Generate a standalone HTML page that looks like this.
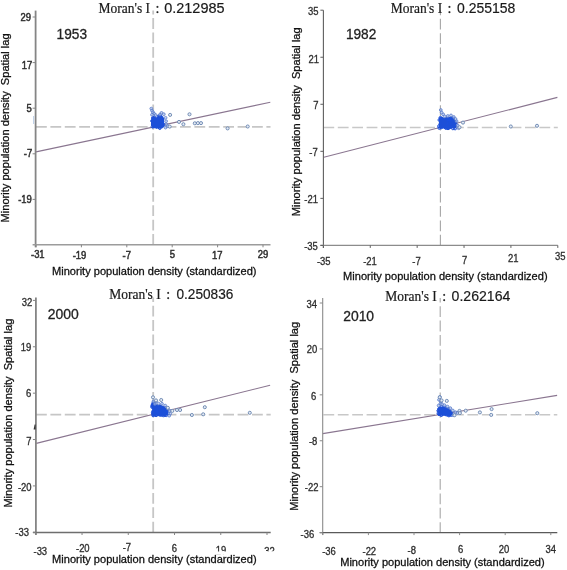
<!DOCTYPE html>
<html><head><meta charset="utf-8"><style>
html,body{margin:0;padding:0;background:#fff;}
body{width:567px;height:570px;overflow:hidden;position:relative;}
svg{position:absolute;left:0;top:0;filter:blur(0.5px);}
</style></head><body>
<svg width="567" height="570" viewBox="0 0 567 570">
<rect width="567" height="570" fill="#fff"/>
<line x1="153.20" y1="10.60" x2="153.20" y2="244.80" stroke="#c6c6c6" stroke-width="1.8" stroke-dasharray="10.8 3.6" stroke-dashoffset="6.9"/>
<line x1="36.00" y1="126.90" x2="270.50" y2="126.90" stroke="#c6c6c6" stroke-width="1.8" stroke-dasharray="10.8 3.6" stroke-dashoffset="0"/>
<line x1="36.00" y1="151.90" x2="270.30" y2="102.30" stroke="#8a7690" stroke-width="1.1" />
<line x1="35.60" y1="10.60" x2="35.60" y2="247.30" stroke="#858585" stroke-width="1.8" />
<line x1="32.60" y1="244.80" x2="270.50" y2="244.80" stroke="#9c9c9c" stroke-width="1.4" />
<line x1="32.60" y1="17.00" x2="35.60" y2="17.00" stroke="#858585" stroke-width="1" />
<line x1="32.60" y1="62.60" x2="35.60" y2="62.60" stroke="#858585" stroke-width="1" />
<line x1="32.60" y1="108.20" x2="35.60" y2="108.20" stroke="#858585" stroke-width="1" />
<line x1="32.60" y1="153.80" x2="35.60" y2="153.80" stroke="#858585" stroke-width="1" />
<line x1="32.60" y1="199.40" x2="35.60" y2="199.40" stroke="#858585" stroke-width="1" />
<line x1="36.00" y1="244.80" x2="36.00" y2="247.30" stroke="#858585" stroke-width="1" />
<line x1="81.40" y1="244.80" x2="81.40" y2="247.30" stroke="#858585" stroke-width="1" />
<line x1="126.80" y1="244.80" x2="126.80" y2="247.30" stroke="#858585" stroke-width="1" />
<line x1="172.20" y1="244.80" x2="172.20" y2="247.30" stroke="#858585" stroke-width="1" />
<line x1="217.60" y1="244.80" x2="217.60" y2="247.30" stroke="#858585" stroke-width="1" />
<line x1="263.00" y1="244.80" x2="263.00" y2="247.30" stroke="#858585" stroke-width="1" />
<text x="0" y="0" transform="translate(31.10,20.66) scale(0.9,1)" font-size="10.5" text-anchor="end" font-family='"Liberation Sans", sans-serif' fill="#2e2e2e" stroke="#2e2e2e" stroke-width="0.5">29</text>
<text x="0" y="0" transform="translate(32.30,69.36) scale(0.9,1)" font-size="10.5" text-anchor="end" font-family='"Liberation Sans", sans-serif' fill="#2e2e2e" stroke="#2e2e2e" stroke-width="0.5">17</text>
<text x="0" y="0" transform="translate(31.80,111.76) scale(0.9,1)" font-size="10.5" text-anchor="end" font-family='"Liberation Sans", sans-serif' fill="#2e2e2e" stroke="#2e2e2e" stroke-width="0.5">5</text>
<text x="0" y="0" transform="translate(32.20,156.76) scale(0.9,1)" font-size="10.5" text-anchor="end" font-family='"Liberation Sans", sans-serif' fill="#2e2e2e" stroke="#2e2e2e" stroke-width="0.5">-7</text>
<text x="0" y="0" transform="translate(31.80,203.16) scale(0.9,1)" font-size="10.5" text-anchor="end" font-family='"Liberation Sans", sans-serif' fill="#2e2e2e" stroke="#2e2e2e" stroke-width="0.5">-19</text>
<text x="0" y="0" transform="translate(37.80,257.96) scale(0.9,1)" font-size="10.5" text-anchor="middle" font-family='"Liberation Sans", sans-serif' fill="#2e2e2e" stroke="#2e2e2e" stroke-width="0.5">-31</text>
<text x="0" y="0" transform="translate(79.50,258.96) scale(0.9,1)" font-size="10.5" text-anchor="middle" font-family='"Liberation Sans", sans-serif' fill="#2e2e2e" stroke="#2e2e2e" stroke-width="0.5">-19</text>
<text x="0" y="0" transform="translate(126.80,258.56) scale(0.9,1)" font-size="10.5" text-anchor="middle" font-family='"Liberation Sans", sans-serif' fill="#2e2e2e" stroke="#2e2e2e" stroke-width="0.5">-7</text>
<text x="0" y="0" transform="translate(172.40,258.16) scale(0.9,1)" font-size="10.5" text-anchor="middle" font-family='"Liberation Sans", sans-serif' fill="#2e2e2e" stroke="#2e2e2e" stroke-width="0.5">5</text>
<text x="0" y="0" transform="translate(217.20,258.96) scale(0.9,1)" font-size="10.5" text-anchor="middle" font-family='"Liberation Sans", sans-serif' fill="#2e2e2e" stroke="#2e2e2e" stroke-width="0.5">17</text>
<text x="0" y="0" transform="translate(263.10,257.96) scale(0.9,1)" font-size="10.5" text-anchor="middle" font-family='"Liberation Sans", sans-serif' fill="#2e2e2e" stroke="#2e2e2e" stroke-width="0.5">29</text>
<text x="98.50" y="13.30" font-family='"Liberation Serif", serif' font-size="14.4" fill="#1a1a1a" textLength="51.5" lengthAdjust="spacingAndGlyphs" stroke="#1a1a1a" stroke-width="0.2">Moran's I</text>
<text x="155.60" y="13.30" font-family='"Liberation Serif", serif' font-size="14" fill="#1a1a1a" stroke="#1a1a1a" stroke-width="0.3">:</text>
<text x="164.20" y="13.30" font-family='"Liberation Sans", sans-serif' font-size="14.4" fill="#1a1a1a" stroke="#1a1a1a" stroke-width="0.2" textLength="60.4" lengthAdjust="spacingAndGlyphs">0.212985</text>
<text x="56.60" y="38.60" font-family='"Liberation Sans", sans-serif' font-size="14.6" fill="#222" stroke="#222" stroke-width="0.3" textLength="30.4" lengthAdjust="spacingAndGlyphs">1953</text>
<text x="0" y="0" transform="translate(9.30,222.40) rotate(-90)" font-family='"Liberation Sans", sans-serif' font-size="11" fill="#111" stroke="#111" stroke-width="0.28" textLength="189" lengthAdjust="spacingAndGlyphs" xml:space="preserve">Minority population density  Spatial lag</text>
<text x="52.00" y="274.50" font-family='"Liberation Sans", sans-serif' font-size="11" fill="#111" stroke="#111" stroke-width="0.28" textLength="204.5" lengthAdjust="spacingAndGlyphs">Minority population density (standardized)</text>
<line x1="440.40" y1="10.20" x2="440.40" y2="245.40" stroke="#a6a6a6" stroke-width="1.1" stroke-dasharray="10.8 3.6" stroke-dashoffset="5.8"/>
<line x1="323.40" y1="127.40" x2="557.80" y2="127.40" stroke="#c8c8c8" stroke-width="1.5" stroke-dasharray="10.8 3.6" stroke-dashoffset="0"/>
<line x1="323.80" y1="157.20" x2="557.40" y2="97.40" stroke="#8a7690" stroke-width="1.1" />
<line x1="323.40" y1="10.20" x2="323.40" y2="247.90" stroke="#5e5e5e" stroke-width="1.1" />
<line x1="320.40" y1="245.40" x2="557.80" y2="245.40" stroke="#8c8c8c" stroke-width="1.3" />
<line x1="320.40" y1="10.20" x2="323.40" y2="10.20" stroke="#5e5e5e" stroke-width="1" />
<line x1="320.40" y1="57.24" x2="323.40" y2="57.24" stroke="#5e5e5e" stroke-width="1" />
<line x1="320.40" y1="104.28" x2="323.40" y2="104.28" stroke="#5e5e5e" stroke-width="1" />
<line x1="320.40" y1="151.32" x2="323.40" y2="151.32" stroke="#5e5e5e" stroke-width="1" />
<line x1="320.40" y1="198.36" x2="323.40" y2="198.36" stroke="#5e5e5e" stroke-width="1" />
<line x1="320.40" y1="245.40" x2="323.40" y2="245.40" stroke="#5e5e5e" stroke-width="1" />
<line x1="323.40" y1="245.40" x2="323.40" y2="247.90" stroke="#5e5e5e" stroke-width="1" />
<line x1="370.28" y1="245.40" x2="370.28" y2="247.90" stroke="#5e5e5e" stroke-width="1" />
<line x1="417.16" y1="245.40" x2="417.16" y2="247.90" stroke="#5e5e5e" stroke-width="1" />
<line x1="464.04" y1="245.40" x2="464.04" y2="247.90" stroke="#5e5e5e" stroke-width="1" />
<line x1="510.92" y1="245.40" x2="510.92" y2="247.90" stroke="#5e5e5e" stroke-width="1" />
<line x1="557.80" y1="245.40" x2="557.80" y2="247.90" stroke="#5e5e5e" stroke-width="1" />
<text x="0" y="0" transform="translate(318.50,15.41) scale(0.9,1)" font-size="10.5" text-anchor="end" font-family='"Liberation Sans", sans-serif' fill="#2e2e2e" stroke="#2e2e2e" stroke-width="0.32">35</text>
<text x="0" y="0" transform="translate(319.10,62.56) scale(0.9,1)" font-size="10.5" text-anchor="end" font-family='"Liberation Sans", sans-serif' fill="#2e2e2e" stroke="#2e2e2e" stroke-width="0.32">21</text>
<text x="0" y="0" transform="translate(318.40,109.06) scale(0.9,1)" font-size="10.5" text-anchor="end" font-family='"Liberation Sans", sans-serif' fill="#2e2e2e" stroke="#2e2e2e" stroke-width="0.32">7</text>
<text x="0" y="0" transform="translate(317.70,155.96) scale(0.9,1)" font-size="10.5" text-anchor="end" font-family='"Liberation Sans", sans-serif' fill="#2e2e2e" stroke="#2e2e2e" stroke-width="0.32">-7</text>
<text x="0" y="0" transform="translate(317.90,202.86) scale(0.9,1)" font-size="10.5" text-anchor="end" font-family='"Liberation Sans", sans-serif' fill="#2e2e2e" stroke="#2e2e2e" stroke-width="0.32">-21</text>
<text x="0" y="0" transform="translate(317.80,249.76) scale(0.9,1)" font-size="10.5" text-anchor="end" font-family='"Liberation Sans", sans-serif' fill="#2e2e2e" stroke="#2e2e2e" stroke-width="0.32">-35</text>
<text x="0" y="0" transform="translate(323.75,265.16) scale(0.9,1)" font-size="10.5" text-anchor="middle" font-family='"Liberation Sans", sans-serif' fill="#2e2e2e" stroke="#2e2e2e" stroke-width="0.32">-35</text>
<text x="0" y="0" transform="translate(370.00,265.26) scale(0.9,1)" font-size="10.5" text-anchor="middle" font-family='"Liberation Sans", sans-serif' fill="#2e2e2e" stroke="#2e2e2e" stroke-width="0.32">-21</text>
<text x="0" y="0" transform="translate(416.50,264.66) scale(0.9,1)" font-size="10.5" text-anchor="middle" font-family='"Liberation Sans", sans-serif' fill="#2e2e2e" stroke="#2e2e2e" stroke-width="0.32">-7</text>
<text x="0" y="0" transform="translate(464.50,263.56) scale(0.9,1)" font-size="10.5" text-anchor="middle" font-family='"Liberation Sans", sans-serif' fill="#2e2e2e" stroke="#2e2e2e" stroke-width="0.32">7</text>
<text x="0" y="0" transform="translate(513.30,261.66) scale(0.9,1)" font-size="10.5" text-anchor="middle" font-family='"Liberation Sans", sans-serif' fill="#2e2e2e" stroke="#2e2e2e" stroke-width="0.32">21</text>
<text x="0" y="0" transform="translate(560.20,260.46) scale(0.9,1)" font-size="10.5" text-anchor="middle" font-family='"Liberation Sans", sans-serif' fill="#2e2e2e" stroke="#2e2e2e" stroke-width="0.32">35</text>
<text x="390.70" y="12.70" font-family='"Liberation Serif", serif' font-size="14.4" fill="#1a1a1a" textLength="51.5" lengthAdjust="spacingAndGlyphs" stroke="#1a1a1a" stroke-width="0.2">Moran's I</text>
<text x="447.60" y="12.70" font-family='"Liberation Serif", serif' font-size="14" fill="#1a1a1a" stroke="#1a1a1a" stroke-width="0.3">:</text>
<text x="457.00" y="12.70" font-family='"Liberation Sans", sans-serif' font-size="14.4" fill="#1a1a1a" stroke="#1a1a1a" stroke-width="0.2" textLength="58.3" lengthAdjust="spacingAndGlyphs">0.255158</text>
<text x="345.90" y="39.40" font-family='"Liberation Sans", sans-serif' font-size="14.6" fill="#222" stroke="#222" stroke-width="0.3" textLength="30.4" lengthAdjust="spacingAndGlyphs">1982</text>
<text x="0" y="0" transform="translate(300.00,216.30) rotate(-90)" font-family='"Liberation Sans", sans-serif' font-size="11" fill="#111" stroke="#111" stroke-width="0.28" textLength="189" lengthAdjust="spacingAndGlyphs" xml:space="preserve">Minority population density  Spatial lag</text>
<text x="343.10" y="279.80" font-family='"Liberation Sans", sans-serif' font-size="11" fill="#111" stroke="#111" stroke-width="0.28" textLength="204.5" lengthAdjust="spacingAndGlyphs">Minority population density (standardized)</text>
<line x1="153.20" y1="297.40" x2="153.20" y2="532.50" stroke="#c6c6c6" stroke-width="1.8" stroke-dasharray="10.8 3.6" stroke-dashoffset="6.1"/>
<line x1="36.00" y1="414.70" x2="270.70" y2="414.70" stroke="#c6c6c6" stroke-width="1.8" stroke-dasharray="10.8 3.6" stroke-dashoffset="0"/>
<line x1="36.30" y1="443.40" x2="270.10" y2="385.20" stroke="#8a7690" stroke-width="1.1" />
<line x1="35.90" y1="297.40" x2="35.90" y2="535.00" stroke="#858585" stroke-width="1.8" />
<line x1="32.90" y1="532.50" x2="270.70" y2="532.50" stroke="#6e6e6e" stroke-width="1.3" />
<line x1="32.90" y1="300.40" x2="35.90" y2="300.40" stroke="#858585" stroke-width="1" />
<line x1="32.90" y1="346.78" x2="35.90" y2="346.78" stroke="#858585" stroke-width="1" />
<line x1="32.90" y1="393.16" x2="35.90" y2="393.16" stroke="#858585" stroke-width="1" />
<line x1="32.90" y1="439.54" x2="35.90" y2="439.54" stroke="#858585" stroke-width="1" />
<line x1="32.90" y1="485.92" x2="35.90" y2="485.92" stroke="#858585" stroke-width="1" />
<line x1="32.90" y1="532.30" x2="35.90" y2="532.30" stroke="#858585" stroke-width="1" />
<line x1="35.80" y1="532.50" x2="35.80" y2="535.00" stroke="#858585" stroke-width="1" />
<line x1="82.04" y1="532.50" x2="82.04" y2="535.00" stroke="#858585" stroke-width="1" />
<line x1="128.28" y1="532.50" x2="128.28" y2="535.00" stroke="#858585" stroke-width="1" />
<line x1="174.52" y1="532.50" x2="174.52" y2="535.00" stroke="#858585" stroke-width="1" />
<line x1="220.76" y1="532.50" x2="220.76" y2="535.00" stroke="#858585" stroke-width="1" />
<line x1="267.00" y1="532.50" x2="267.00" y2="535.00" stroke="#858585" stroke-width="1" />
<text x="0" y="0" transform="translate(32.20,305.56) scale(0.9,1)" font-size="10.5" text-anchor="end" font-family='"Liberation Sans", sans-serif' fill="#2e2e2e" stroke="#2e2e2e" stroke-width="0.32">32</text>
<text x="0" y="0" transform="translate(31.20,350.76) scale(0.9,1)" font-size="10.5" text-anchor="end" font-family='"Liberation Sans", sans-serif' fill="#2e2e2e" stroke="#2e2e2e" stroke-width="0.32">19</text>
<text x="0" y="0" transform="translate(31.20,396.56) scale(0.9,1)" font-size="10.5" text-anchor="end" font-family='"Liberation Sans", sans-serif' fill="#2e2e2e" stroke="#2e2e2e" stroke-width="0.32">6</text>
<text x="0" y="0" transform="translate(31.40,444.76) scale(0.9,1)" font-size="10.5" text-anchor="end" font-family='"Liberation Sans", sans-serif' fill="#2e2e2e" stroke="#2e2e2e" stroke-width="0.32">7</text>
<text x="0" y="0" transform="translate(31.60,491.36) scale(0.9,1)" font-size="10.5" text-anchor="end" font-family='"Liberation Sans", sans-serif' fill="#2e2e2e" stroke="#2e2e2e" stroke-width="0.32">-20</text>
<text x="0" y="0" transform="translate(29.00,535.86) scale(0.9,1)" font-size="10.5" text-anchor="end" font-family='"Liberation Sans", sans-serif' fill="#2e2e2e" stroke="#2e2e2e" stroke-width="0.32">-33</text>
<text x="0" y="0" transform="translate(40.30,554.76) scale(0.9,1)" font-size="10.5" text-anchor="middle" font-family='"Liberation Sans", sans-serif' fill="#2e2e2e" stroke="#2e2e2e" stroke-width="0.32">-33</text>
<text x="0" y="0" transform="translate(82.80,551.76) scale(0.9,1)" font-size="10.5" text-anchor="middle" font-family='"Liberation Sans", sans-serif' fill="#2e2e2e" stroke="#2e2e2e" stroke-width="0.32">-20</text>
<text x="0" y="0" transform="translate(126.90,551.36) scale(0.9,1)" font-size="10.5" text-anchor="middle" font-family='"Liberation Sans", sans-serif' fill="#2e2e2e" stroke="#2e2e2e" stroke-width="0.32">-7</text>
<text x="0" y="0" transform="translate(174.30,552.46) scale(0.9,1)" font-size="10.5" text-anchor="middle" font-family='"Liberation Sans", sans-serif' fill="#2e2e2e" stroke="#2e2e2e" stroke-width="0.32">6</text>
<text x="0" y="0" transform="translate(220.90,554.16) scale(0.9,1)" font-size="10.5" text-anchor="middle" font-family='"Liberation Sans", sans-serif' fill="#2e2e2e" stroke="#2e2e2e" stroke-width="0.32">19</text>
<text x="0" y="0" transform="translate(269.60,554.76) scale(0.9,1)" font-size="10.5" text-anchor="middle" font-family='"Liberation Sans", sans-serif' fill="#2e2e2e" stroke="#2e2e2e" stroke-width="0.32">32</text>
<text x="109.20" y="299.10" font-family='"Liberation Serif", serif' font-size="14.4" fill="#1a1a1a" textLength="51.5" lengthAdjust="spacingAndGlyphs" stroke="#1a1a1a" stroke-width="0.2">Moran's I</text>
<text x="166.30" y="299.10" font-family='"Liberation Serif", serif' font-size="14" fill="#1a1a1a" stroke="#1a1a1a" stroke-width="0.3">:</text>
<text x="176.50" y="299.10" font-family='"Liberation Sans", sans-serif' font-size="14.4" fill="#1a1a1a" stroke="#1a1a1a" stroke-width="0.2" textLength="56.8" lengthAdjust="spacingAndGlyphs">0.250836</text>
<text x="47.80" y="319.20" font-family='"Liberation Sans", sans-serif' font-size="14.6" fill="#222" stroke="#222" stroke-width="0.3" textLength="31.0" lengthAdjust="spacingAndGlyphs">2000</text>
<text x="0" y="0" transform="translate(12.00,507.60) rotate(-90)" font-family='"Liberation Sans", sans-serif' font-size="11" fill="#111" stroke="#111" stroke-width="0.28" textLength="189" lengthAdjust="spacingAndGlyphs" xml:space="preserve">Minority population density  Spatial lag</text>
<text x="52.10" y="562.60" font-family='"Liberation Sans", sans-serif' font-size="11" fill="#111" stroke="#111" stroke-width="0.28" textLength="204.5" lengthAdjust="spacingAndGlyphs">Minority population density (standardized)</text>
<line x1="440.20" y1="298.10" x2="440.20" y2="532.60" stroke="#a8a8a8" stroke-width="1.1" stroke-dasharray="10.8 3.6" stroke-dashoffset="6.3"/>
<line x1="323.40" y1="414.80" x2="557.30" y2="414.80" stroke="#c8c8c8" stroke-width="1.5" stroke-dasharray="10.8 3.6" stroke-dashoffset="0"/>
<line x1="322.80" y1="433.60" x2="557.10" y2="395.40" stroke="#8a7690" stroke-width="1.1" />
<line x1="322.70" y1="298.10" x2="322.70" y2="535.10" stroke="#8a8a8a" stroke-width="1.1" />
<line x1="319.70" y1="532.60" x2="557.30" y2="532.60" stroke="#5a5a5a" stroke-width="1.3" />
<line x1="319.70" y1="303.00" x2="322.70" y2="303.00" stroke="#8a8a8a" stroke-width="1" />
<line x1="319.70" y1="348.92" x2="322.70" y2="348.92" stroke="#8a8a8a" stroke-width="1" />
<line x1="319.70" y1="394.84" x2="322.70" y2="394.84" stroke="#8a8a8a" stroke-width="1" />
<line x1="319.70" y1="440.76" x2="322.70" y2="440.76" stroke="#8a8a8a" stroke-width="1" />
<line x1="319.70" y1="486.68" x2="322.70" y2="486.68" stroke="#8a8a8a" stroke-width="1" />
<line x1="319.70" y1="532.60" x2="322.70" y2="532.60" stroke="#8a8a8a" stroke-width="1" />
<line x1="322.80" y1="532.60" x2="322.80" y2="535.10" stroke="#8a8a8a" stroke-width="1" />
<line x1="368.40" y1="532.60" x2="368.40" y2="535.10" stroke="#8a8a8a" stroke-width="1" />
<line x1="414.00" y1="532.60" x2="414.00" y2="535.10" stroke="#8a8a8a" stroke-width="1" />
<line x1="459.60" y1="532.60" x2="459.60" y2="535.10" stroke="#8a8a8a" stroke-width="1" />
<line x1="505.20" y1="532.60" x2="505.20" y2="535.10" stroke="#8a8a8a" stroke-width="1" />
<line x1="550.80" y1="532.60" x2="550.80" y2="535.10" stroke="#8a8a8a" stroke-width="1" />
<text x="0" y="0" transform="translate(317.10,307.56) scale(0.9,1)" font-size="10.5" text-anchor="end" font-family='"Liberation Sans", sans-serif' fill="#2e2e2e" stroke="#2e2e2e" stroke-width="0.32">34</text>
<text x="0" y="0" transform="translate(317.30,352.96) scale(0.9,1)" font-size="10.5" text-anchor="end" font-family='"Liberation Sans", sans-serif' fill="#2e2e2e" stroke="#2e2e2e" stroke-width="0.32">20</text>
<text x="0" y="0" transform="translate(316.20,400.06) scale(0.9,1)" font-size="10.5" text-anchor="end" font-family='"Liberation Sans", sans-serif' fill="#2e2e2e" stroke="#2e2e2e" stroke-width="0.32">6</text>
<text x="0" y="0" transform="translate(317.30,444.56) scale(0.9,1)" font-size="10.5" text-anchor="end" font-family='"Liberation Sans", sans-serif' fill="#2e2e2e" stroke="#2e2e2e" stroke-width="0.32">-8</text>
<text x="0" y="0" transform="translate(318.40,491.06) scale(0.9,1)" font-size="10.5" text-anchor="end" font-family='"Liberation Sans", sans-serif' fill="#2e2e2e" stroke="#2e2e2e" stroke-width="0.32">-22</text>
<text x="0" y="0" transform="translate(314.20,537.56) scale(0.9,1)" font-size="10.5" text-anchor="end" font-family='"Liberation Sans", sans-serif' fill="#2e2e2e" stroke="#2e2e2e" stroke-width="0.32">-36</text>
<text x="0" y="0" transform="translate(329.00,555.26) scale(0.9,1)" font-size="10.5" text-anchor="middle" font-family='"Liberation Sans", sans-serif' fill="#2e2e2e" stroke="#2e2e2e" stroke-width="0.32">-36</text>
<text x="0" y="0" transform="translate(369.30,555.36) scale(0.9,1)" font-size="10.5" text-anchor="middle" font-family='"Liberation Sans", sans-serif' fill="#2e2e2e" stroke="#2e2e2e" stroke-width="0.32">-22</text>
<text x="0" y="0" transform="translate(411.70,554.16) scale(0.9,1)" font-size="10.5" text-anchor="middle" font-family='"Liberation Sans", sans-serif' fill="#2e2e2e" stroke="#2e2e2e" stroke-width="0.32">-8</text>
<text x="0" y="0" transform="translate(460.70,552.76) scale(0.9,1)" font-size="10.5" text-anchor="middle" font-family='"Liberation Sans", sans-serif' fill="#2e2e2e" stroke="#2e2e2e" stroke-width="0.32">6</text>
<text x="0" y="0" transform="translate(503.90,552.76) scale(0.9,1)" font-size="10.5" text-anchor="middle" font-family='"Liberation Sans", sans-serif' fill="#2e2e2e" stroke="#2e2e2e" stroke-width="0.32">20</text>
<text x="0" y="0" transform="translate(550.80,552.76) scale(0.9,1)" font-size="10.5" text-anchor="middle" font-family='"Liberation Sans", sans-serif' fill="#2e2e2e" stroke="#2e2e2e" stroke-width="0.32">34</text>
<text x="385.30" y="300.50" font-family='"Liberation Serif", serif' font-size="14.4" fill="#1a1a1a" textLength="51.5" lengthAdjust="spacingAndGlyphs" stroke="#1a1a1a" stroke-width="0.2">Moran's I</text>
<text x="442.30" y="300.50" font-family='"Liberation Serif", serif' font-size="14" fill="#1a1a1a" stroke="#1a1a1a" stroke-width="0.3">:</text>
<text x="451.60" y="300.50" font-family='"Liberation Sans", sans-serif' font-size="14.4" fill="#1a1a1a" stroke="#1a1a1a" stroke-width="0.2" textLength="58.8" lengthAdjust="spacingAndGlyphs">0.262164</text>
<text x="343.20" y="321.20" font-family='"Liberation Sans", sans-serif' font-size="14.6" fill="#222" stroke="#222" stroke-width="0.3" textLength="30.9" lengthAdjust="spacingAndGlyphs">2010</text>
<text x="0" y="0" transform="translate(298.40,510.80) rotate(-90)" font-family='"Liberation Sans", sans-serif' font-size="11" fill="#111" stroke="#111" stroke-width="0.28" textLength="189" lengthAdjust="spacingAndGlyphs" xml:space="preserve">Minority population density  Spatial lag</text>
<text x="340.20" y="566.10" font-family='"Liberation Sans", sans-serif' font-size="11" fill="#111" stroke="#111" stroke-width="0.28" textLength="204.5" lengthAdjust="spacingAndGlyphs">Minority population density (standardized)</text>
<line x1="33.6" y1="116" x2="33.6" y2="124" stroke="#b4c8e4" stroke-width="0.9"/>
<path d="M33.6,429.5 L34.6,424.6 L35.6,424.6 L35.6,429.5 Z" fill="#333"/>
<rect x="205" y="551.5" width="79" height="2.9" fill="#fff"/>
<rect x="258" y="551.5" width="26" height="6" fill="#fff"/>
<path d="M152.2,128.2 L152.2,118 L154,117.4 L156.5,117.6 L158.5,116.2 L161.6,115.4 L163.2,116.6 L164,119 L164,125.5 L162.8,127 L160.5,128.2 Z" fill="#1a50e4" transform="translate(0,0)"/>
<circle cx="159.9" cy="116.3" r="1.4" fill="none" stroke="#1d4fd8" stroke-width="1.0"/>
<circle cx="158.5" cy="120.1" r="1.4" fill="none" stroke="#1d4fd8" stroke-width="1.0"/>
<circle cx="152.9" cy="121.9" r="1.4" fill="none" stroke="#1d4fd8" stroke-width="1.0"/>
<circle cx="152.6" cy="121.0" r="1.4" fill="none" stroke="#1d4fd8" stroke-width="1.0"/>
<circle cx="157.2" cy="126.0" r="1.4" fill="none" stroke="#1d4fd8" stroke-width="1.0"/>
<circle cx="153.7" cy="118.3" r="1.4" fill="none" stroke="#1d4fd8" stroke-width="1.0"/>
<circle cx="159.6" cy="127.5" r="1.4" fill="none" stroke="#1d4fd8" stroke-width="1.0"/>
<circle cx="159.0" cy="120.5" r="1.4" fill="none" stroke="#1d4fd8" stroke-width="1.0"/>
<circle cx="162.3" cy="119.1" r="1.4" fill="none" stroke="#1d4fd8" stroke-width="1.0"/>
<circle cx="155.8" cy="125.8" r="1.4" fill="none" stroke="#1d4fd8" stroke-width="1.0"/>
<circle cx="154.3" cy="122.8" r="1.4" fill="none" stroke="#1d4fd8" stroke-width="1.0"/>
<circle cx="159.7" cy="120.2" r="1.4" fill="none" stroke="#1d4fd8" stroke-width="1.0"/>
<circle cx="158.7" cy="116.2" r="1.4" fill="none" stroke="#1d4fd8" stroke-width="1.0"/>
<circle cx="152.9" cy="118.0" r="1.4" fill="none" stroke="#1d4fd8" stroke-width="1.0"/>
<circle cx="160.2" cy="120.9" r="1.4" fill="none" stroke="#1d4fd8" stroke-width="1.0"/>
<circle cx="155.9" cy="122.9" r="1.4" fill="none" stroke="#1d4fd8" stroke-width="1.0"/>
<circle cx="157.5" cy="119.2" r="1.4" fill="none" stroke="#1d4fd8" stroke-width="1.0"/>
<circle cx="161.6" cy="124.3" r="1.4" fill="none" stroke="#1d4fd8" stroke-width="1.0"/>
<circle cx="155.1" cy="122.8" r="1.4" fill="none" stroke="#1d4fd8" stroke-width="1.0"/>
<circle cx="158.4" cy="126.6" r="1.4" fill="none" stroke="#1d4fd8" stroke-width="1.0"/>
<circle cx="160.8" cy="119.1" r="1.4" fill="none" stroke="#1d4fd8" stroke-width="1.0"/>
<circle cx="157.1" cy="125.1" r="1.4" fill="none" stroke="#1d4fd8" stroke-width="1.0"/>
<circle cx="154.0" cy="121.7" r="1.4" fill="none" stroke="#1d4fd8" stroke-width="1.0"/>
<circle cx="152.7" cy="124.0" r="1.4" fill="none" stroke="#1d4fd8" stroke-width="1.0"/>
<circle cx="161.2" cy="122.7" r="1.4" fill="none" stroke="#1d4fd8" stroke-width="1.0"/>
<circle cx="162.5" cy="119.4" r="1.4" fill="none" stroke="#1d4fd8" stroke-width="1.0"/>
<circle cx="160.4" cy="123.0" r="1.4" fill="none" stroke="#1d4fd8" stroke-width="1.0"/>
<circle cx="159.0" cy="121.2" r="1.4" fill="none" stroke="#1d4fd8" stroke-width="1.0"/>
<circle cx="157.8" cy="123.9" r="1.4" fill="none" stroke="#1d4fd8" stroke-width="1.0"/>
<circle cx="152.9" cy="124.4" r="1.4" fill="none" stroke="#1d4fd8" stroke-width="1.0"/>
<circle cx="159.8" cy="128.1" r="1.4" fill="none" stroke="#1d4fd8" stroke-width="1.0"/>
<circle cx="161.9" cy="119.0" r="1.4" fill="none" stroke="#1d4fd8" stroke-width="1.0"/>
<circle cx="156.8" cy="124.0" r="1.4" fill="none" stroke="#1d4fd8" stroke-width="1.0"/>
<circle cx="152.5" cy="121.3" r="1.4" fill="none" stroke="#1d4fd8" stroke-width="1.0"/>
<circle cx="152.9" cy="125.2" r="1.4" fill="none" stroke="#1d4fd8" stroke-width="1.0"/>
<circle cx="153.7" cy="118.6" r="1.4" fill="none" stroke="#1d4fd8" stroke-width="1.0"/>
<circle cx="156.8" cy="126.6" r="1.4" fill="none" stroke="#1d4fd8" stroke-width="1.0"/>
<circle cx="153.2" cy="121.1" r="1.4" fill="none" stroke="#1d4fd8" stroke-width="1.0"/>
<circle cx="158.7" cy="126.7" r="1.4" fill="none" stroke="#1d4fd8" stroke-width="1.0"/>
<circle cx="161.9" cy="126.5" r="1.4" fill="none" stroke="#1d4fd8" stroke-width="1.0"/>
<circle cx="155.5" cy="120.7" r="1.4" fill="none" stroke="#1d4fd8" stroke-width="1.0"/>
<circle cx="156.4" cy="126.7" r="1.4" fill="none" stroke="#1d4fd8" stroke-width="1.0"/>
<circle cx="154.3" cy="118.4" r="1.4" fill="none" stroke="#1d4fd8" stroke-width="1.0"/>
<circle cx="155.0" cy="121.6" r="1.4" fill="none" stroke="#1d4fd8" stroke-width="1.0"/>
<circle cx="159.2" cy="118.8" r="1.4" fill="none" stroke="#1d4fd8" stroke-width="1.0"/>
<circle cx="152.2" cy="120.8" r="1.4" fill="none" stroke="#1d4fd8" stroke-width="1.0"/>
<circle cx="156.6" cy="122.6" r="1.4" fill="none" stroke="#1d4fd8" stroke-width="1.0"/>
<circle cx="163.4" cy="124.2" r="1.4" fill="none" stroke="#1d4fd8" stroke-width="1.0"/>
<circle cx="158.3" cy="123.3" r="1.4" fill="none" stroke="#1d4fd8" stroke-width="1.0"/>
<circle cx="160.2" cy="116.1" r="1.4" fill="none" stroke="#1d4fd8" stroke-width="1.0"/>
<circle cx="162.8" cy="125.4" r="1.4" fill="none" stroke="#1d4fd8" stroke-width="1.0"/>
<circle cx="162.5" cy="125.6" r="1.4" fill="none" stroke="#1d4fd8" stroke-width="1.0"/>
<circle cx="156.8" cy="120.5" r="1.4" fill="none" stroke="#1d4fd8" stroke-width="1.0"/>
<circle cx="153.4" cy="123.5" r="1.4" fill="none" stroke="#1d4fd8" stroke-width="1.0"/>
<circle cx="154.7" cy="117.5" r="1.4" fill="none" stroke="#1d4fd8" stroke-width="1.0"/>
<circle cx="153.4" cy="120.1" r="1.4" fill="none" stroke="#1d4fd8" stroke-width="1.0"/>
<circle cx="152.5" cy="126.6" r="1.4" fill="none" stroke="#1d4fd8" stroke-width="1.0"/>
<circle cx="159.4" cy="117.3" r="1.4" fill="none" stroke="#1d4fd8" stroke-width="1.0"/>
<circle cx="155.2" cy="119.8" r="1.4" fill="none" stroke="#1d4fd8" stroke-width="1.0"/>
<circle cx="157.7" cy="121.6" r="1.4" fill="none" stroke="#1d4fd8" stroke-width="1.0"/>
<circle cx="151.3" cy="108.6" r="1.4" fill="#a8bce8" fill-opacity="0.7" stroke="#5578c8" stroke-width="0.75"/>
<circle cx="152.0" cy="110.6" r="1.4" fill="#a8bce8" fill-opacity="0.7" stroke="#5578c8" stroke-width="0.75"/>
<circle cx="153.0" cy="112.2" r="1.4" fill="#a8bce8" fill-opacity="0.7" stroke="#5578c8" stroke-width="0.75"/>
<circle cx="154.2" cy="113.8" r="1.4" fill="#a8bce8" fill-opacity="0.7" stroke="#5578c8" stroke-width="0.75"/>
<circle cx="155.6" cy="115.0" r="1.4" fill="#a8bce8" fill-opacity="0.7" stroke="#5578c8" stroke-width="0.75"/>
<circle cx="152.0" cy="114.8" r="1.4" fill="#a8bce8" fill-opacity="0.7" stroke="#5578c8" stroke-width="0.75"/>
<circle cx="161.5" cy="112.9" r="1.4" fill="#a8bce8" fill-opacity="0.7" stroke="#5578c8" stroke-width="0.75"/>
<circle cx="163.8" cy="114.2" r="1.4" fill="#a8bce8" fill-opacity="0.7" stroke="#5578c8" stroke-width="0.75"/>
<circle cx="160.0" cy="114.6" r="1.4" fill="#a8bce8" fill-opacity="0.7" stroke="#5578c8" stroke-width="0.75"/>
<circle cx="165.6" cy="117.8" r="1.4" fill="#a8bce8" fill-opacity="0.7" stroke="#5578c8" stroke-width="0.75"/>
<circle cx="166.1" cy="121.2" r="1.4" fill="#a8bce8" fill-opacity="0.7" stroke="#5578c8" stroke-width="0.75"/>
<circle cx="166.5" cy="124.6" r="1.4" fill="#a8bce8" fill-opacity="0.7" stroke="#5578c8" stroke-width="0.75"/>
<circle cx="165.5" cy="127.6" r="1.4" fill="#a8bce8" fill-opacity="0.7" stroke="#5578c8" stroke-width="0.75"/>
<circle cx="167.6" cy="126.2" r="1.4" fill="#a8bce8" fill-opacity="0.7" stroke="#5578c8" stroke-width="0.75"/>
<circle cx="170.1" cy="114.9" r="1.55" fill="#e4eaf3" stroke="#6884b0" stroke-width="0.9"/>
<circle cx="189.5" cy="114.3" r="1.55" fill="#e4eaf3" stroke="#6884b0" stroke-width="0.9"/>
<circle cx="179.0" cy="121.9" r="1.55" fill="#e4eaf3" stroke="#6884b0" stroke-width="0.9"/>
<circle cx="183.4" cy="124.2" r="1.55" fill="#e4eaf3" stroke="#6884b0" stroke-width="0.9"/>
<circle cx="194.8" cy="123.3" r="1.55" fill="#e4eaf3" stroke="#6884b0" stroke-width="0.9"/>
<circle cx="197.9" cy="123.1" r="1.55" fill="#e4eaf3" stroke="#6884b0" stroke-width="0.9"/>
<circle cx="201.0" cy="123.1" r="1.55" fill="#e4eaf3" stroke="#6884b0" stroke-width="0.9"/>
<circle cx="169.7" cy="126.6" r="1.55" fill="#e4eaf3" stroke="#6884b0" stroke-width="0.9"/>
<circle cx="227.6" cy="128.4" r="1.55" fill="#e4eaf3" stroke="#6884b0" stroke-width="0.9"/>
<circle cx="247.7" cy="126.5" r="1.55" fill="#e4eaf3" stroke="#6884b0" stroke-width="0.9"/>
<path d="M438.9,128.6 L438.9,117.4 L441,117 L443,117.8 L444.6,118.6 L448.2,117.2 L450.8,116.6 L453.2,118 L455,120 L455.8,122.5 L456.2,126.5 L455.6,128.6 Z" fill="#1a50e4" transform="translate(0,0)"/>
<circle cx="440.4" cy="117.8" r="1.4" fill="none" stroke="#1d4fd8" stroke-width="1.0"/>
<circle cx="444.8" cy="119.8" r="1.4" fill="none" stroke="#1d4fd8" stroke-width="1.0"/>
<circle cx="453.2" cy="118.5" r="1.4" fill="none" stroke="#1d4fd8" stroke-width="1.0"/>
<circle cx="439.3" cy="128.0" r="1.4" fill="none" stroke="#1d4fd8" stroke-width="1.0"/>
<circle cx="448.0" cy="118.4" r="1.4" fill="none" stroke="#1d4fd8" stroke-width="1.0"/>
<circle cx="448.0" cy="128.3" r="1.4" fill="none" stroke="#1d4fd8" stroke-width="1.0"/>
<circle cx="453.8" cy="125.0" r="1.4" fill="none" stroke="#1d4fd8" stroke-width="1.0"/>
<circle cx="443.4" cy="121.0" r="1.4" fill="none" stroke="#1d4fd8" stroke-width="1.0"/>
<circle cx="441.8" cy="125.9" r="1.4" fill="none" stroke="#1d4fd8" stroke-width="1.0"/>
<circle cx="448.1" cy="125.9" r="1.4" fill="none" stroke="#1d4fd8" stroke-width="1.0"/>
<circle cx="444.6" cy="119.3" r="1.4" fill="none" stroke="#1d4fd8" stroke-width="1.0"/>
<circle cx="452.9" cy="128.4" r="1.4" fill="none" stroke="#1d4fd8" stroke-width="1.0"/>
<circle cx="453.7" cy="126.3" r="1.4" fill="none" stroke="#1d4fd8" stroke-width="1.0"/>
<circle cx="453.1" cy="125.5" r="1.4" fill="none" stroke="#1d4fd8" stroke-width="1.0"/>
<circle cx="442.8" cy="122.8" r="1.4" fill="none" stroke="#1d4fd8" stroke-width="1.0"/>
<circle cx="439.4" cy="120.0" r="1.4" fill="none" stroke="#1d4fd8" stroke-width="1.0"/>
<circle cx="443.4" cy="124.9" r="1.4" fill="none" stroke="#1d4fd8" stroke-width="1.0"/>
<circle cx="455.4" cy="122.0" r="1.4" fill="none" stroke="#1d4fd8" stroke-width="1.0"/>
<circle cx="455.1" cy="128.5" r="1.4" fill="none" stroke="#1d4fd8" stroke-width="1.0"/>
<circle cx="442.7" cy="119.3" r="1.4" fill="none" stroke="#1d4fd8" stroke-width="1.0"/>
<circle cx="442.3" cy="119.1" r="1.4" fill="none" stroke="#1d4fd8" stroke-width="1.0"/>
<circle cx="449.7" cy="127.4" r="1.4" fill="none" stroke="#1d4fd8" stroke-width="1.0"/>
<circle cx="453.4" cy="122.4" r="1.4" fill="none" stroke="#1d4fd8" stroke-width="1.0"/>
<circle cx="450.2" cy="126.2" r="1.4" fill="none" stroke="#1d4fd8" stroke-width="1.0"/>
<circle cx="440.4" cy="124.5" r="1.4" fill="none" stroke="#1d4fd8" stroke-width="1.0"/>
<circle cx="454.6" cy="126.0" r="1.4" fill="none" stroke="#1d4fd8" stroke-width="1.0"/>
<circle cx="451.9" cy="122.3" r="1.4" fill="none" stroke="#1d4fd8" stroke-width="1.0"/>
<circle cx="442.0" cy="126.1" r="1.4" fill="none" stroke="#1d4fd8" stroke-width="1.0"/>
<circle cx="444.7" cy="126.2" r="1.4" fill="none" stroke="#1d4fd8" stroke-width="1.0"/>
<circle cx="445.8" cy="128.0" r="1.4" fill="none" stroke="#1d4fd8" stroke-width="1.0"/>
<circle cx="451.4" cy="118.6" r="1.4" fill="none" stroke="#1d4fd8" stroke-width="1.0"/>
<circle cx="441.1" cy="118.4" r="1.4" fill="none" stroke="#1d4fd8" stroke-width="1.0"/>
<circle cx="454.6" cy="126.3" r="1.4" fill="none" stroke="#1d4fd8" stroke-width="1.0"/>
<circle cx="441.4" cy="126.5" r="1.4" fill="none" stroke="#1d4fd8" stroke-width="1.0"/>
<circle cx="455.9" cy="124.5" r="1.4" fill="none" stroke="#1d4fd8" stroke-width="1.0"/>
<circle cx="445.0" cy="123.2" r="1.4" fill="none" stroke="#1d4fd8" stroke-width="1.0"/>
<circle cx="455.7" cy="124.4" r="1.4" fill="none" stroke="#1d4fd8" stroke-width="1.0"/>
<circle cx="448.0" cy="127.8" r="1.4" fill="none" stroke="#1d4fd8" stroke-width="1.0"/>
<circle cx="446.4" cy="127.1" r="1.4" fill="none" stroke="#1d4fd8" stroke-width="1.0"/>
<circle cx="453.2" cy="119.1" r="1.4" fill="none" stroke="#1d4fd8" stroke-width="1.0"/>
<circle cx="443.3" cy="120.1" r="1.4" fill="none" stroke="#1d4fd8" stroke-width="1.0"/>
<circle cx="443.1" cy="123.6" r="1.4" fill="none" stroke="#1d4fd8" stroke-width="1.0"/>
<circle cx="443.4" cy="121.6" r="1.4" fill="none" stroke="#1d4fd8" stroke-width="1.0"/>
<circle cx="441.2" cy="127.5" r="1.4" fill="none" stroke="#1d4fd8" stroke-width="1.0"/>
<circle cx="445.0" cy="122.1" r="1.4" fill="none" stroke="#1d4fd8" stroke-width="1.0"/>
<circle cx="449.0" cy="127.5" r="1.4" fill="none" stroke="#1d4fd8" stroke-width="1.0"/>
<circle cx="446.2" cy="127.6" r="1.4" fill="none" stroke="#1d4fd8" stroke-width="1.0"/>
<circle cx="447.6" cy="123.0" r="1.4" fill="none" stroke="#1d4fd8" stroke-width="1.0"/>
<circle cx="446.5" cy="118.8" r="1.4" fill="none" stroke="#1d4fd8" stroke-width="1.0"/>
<circle cx="439.0" cy="126.2" r="1.4" fill="none" stroke="#1d4fd8" stroke-width="1.0"/>
<circle cx="441.9" cy="122.3" r="1.4" fill="none" stroke="#1d4fd8" stroke-width="1.0"/>
<circle cx="451.4" cy="123.3" r="1.4" fill="none" stroke="#1d4fd8" stroke-width="1.0"/>
<circle cx="444.5" cy="122.8" r="1.4" fill="none" stroke="#1d4fd8" stroke-width="1.0"/>
<circle cx="448.5" cy="126.0" r="1.4" fill="none" stroke="#1d4fd8" stroke-width="1.0"/>
<circle cx="440.7" cy="123.3" r="1.4" fill="none" stroke="#1d4fd8" stroke-width="1.0"/>
<circle cx="443.2" cy="119.9" r="1.4" fill="none" stroke="#1d4fd8" stroke-width="1.0"/>
<circle cx="452.3" cy="122.7" r="1.4" fill="none" stroke="#1d4fd8" stroke-width="1.0"/>
<circle cx="448.6" cy="125.7" r="1.4" fill="none" stroke="#1d4fd8" stroke-width="1.0"/>
<circle cx="454.7" cy="121.9" r="1.4" fill="none" stroke="#1d4fd8" stroke-width="1.0"/>
<circle cx="449.5" cy="122.7" r="1.4" fill="none" stroke="#1d4fd8" stroke-width="1.0"/>
<circle cx="440.8" cy="110.0" r="1.4" fill="#a8bce8" fill-opacity="0.7" stroke="#5578c8" stroke-width="0.75"/>
<circle cx="441.6" cy="112.6" r="1.4" fill="#a8bce8" fill-opacity="0.7" stroke="#5578c8" stroke-width="0.75"/>
<circle cx="443.2" cy="114.4" r="1.4" fill="#a8bce8" fill-opacity="0.7" stroke="#5578c8" stroke-width="0.75"/>
<circle cx="444.6" cy="116.4" r="1.4" fill="#a8bce8" fill-opacity="0.7" stroke="#5578c8" stroke-width="0.75"/>
<circle cx="447.8" cy="116.0" r="1.4" fill="#a8bce8" fill-opacity="0.7" stroke="#5578c8" stroke-width="0.75"/>
<circle cx="451.0" cy="115.4" r="1.4" fill="#a8bce8" fill-opacity="0.7" stroke="#5578c8" stroke-width="0.75"/>
<circle cx="453.8" cy="117.0" r="1.4" fill="#a8bce8" fill-opacity="0.7" stroke="#5578c8" stroke-width="0.75"/>
<circle cx="456.6" cy="121.2" r="1.4" fill="#a8bce8" fill-opacity="0.7" stroke="#5578c8" stroke-width="0.75"/>
<circle cx="457.6" cy="125.4" r="1.4" fill="#a8bce8" fill-opacity="0.7" stroke="#5578c8" stroke-width="0.75"/>
<circle cx="458.6" cy="128.2" r="1.4" fill="#a8bce8" fill-opacity="0.7" stroke="#5578c8" stroke-width="0.75"/>
<circle cx="455.5" cy="119.0" r="1.4" fill="#a8bce8" fill-opacity="0.7" stroke="#5578c8" stroke-width="0.75"/>
<circle cx="510.8" cy="126.5" r="1.55" fill="#e4eaf3" stroke="#6884b0" stroke-width="0.9"/>
<circle cx="537.0" cy="125.8" r="1.55" fill="#e4eaf3" stroke="#6884b0" stroke-width="0.9"/>
<circle cx="463.0" cy="122.6" r="1.55" fill="#e4eaf3" stroke="#6884b0" stroke-width="0.9"/>
<circle cx="459.5" cy="127.2" r="1.55" fill="#e4eaf3" stroke="#6884b0" stroke-width="0.9"/>
<path d="M152.2,415.6 L152.2,403 L153.6,401.8 L155,405.6 L157.9,405.4 L159.8,405 L162.8,405.8 L165.3,407.2 L166.8,408.4 L167.8,410.5 L168.2,413.5 L167.6,415.6 Z" fill="#1a50e4" transform="translate(0,0)"/>
<circle cx="160.4" cy="411.4" r="1.4" fill="none" stroke="#1d4fd8" stroke-width="1.0"/>
<circle cx="159.4" cy="409.2" r="1.4" fill="none" stroke="#1d4fd8" stroke-width="1.0"/>
<circle cx="159.8" cy="414.8" r="1.4" fill="none" stroke="#1d4fd8" stroke-width="1.0"/>
<circle cx="163.4" cy="413.9" r="1.4" fill="none" stroke="#1d4fd8" stroke-width="1.0"/>
<circle cx="161.2" cy="414.8" r="1.4" fill="none" stroke="#1d4fd8" stroke-width="1.0"/>
<circle cx="154.1" cy="407.9" r="1.4" fill="none" stroke="#1d4fd8" stroke-width="1.0"/>
<circle cx="153.4" cy="405.1" r="1.4" fill="none" stroke="#1d4fd8" stroke-width="1.0"/>
<circle cx="153.4" cy="411.0" r="1.4" fill="none" stroke="#1d4fd8" stroke-width="1.0"/>
<circle cx="164.7" cy="414.2" r="1.4" fill="none" stroke="#1d4fd8" stroke-width="1.0"/>
<circle cx="154.7" cy="411.7" r="1.4" fill="none" stroke="#1d4fd8" stroke-width="1.0"/>
<circle cx="166.3" cy="415.2" r="1.4" fill="none" stroke="#1d4fd8" stroke-width="1.0"/>
<circle cx="155.7" cy="414.9" r="1.4" fill="none" stroke="#1d4fd8" stroke-width="1.0"/>
<circle cx="158.6" cy="408.5" r="1.4" fill="none" stroke="#1d4fd8" stroke-width="1.0"/>
<circle cx="168.0" cy="413.3" r="1.4" fill="none" stroke="#1d4fd8" stroke-width="1.0"/>
<circle cx="154.8" cy="407.8" r="1.4" fill="none" stroke="#1d4fd8" stroke-width="1.0"/>
<circle cx="160.4" cy="406.5" r="1.4" fill="none" stroke="#1d4fd8" stroke-width="1.0"/>
<circle cx="155.3" cy="406.2" r="1.4" fill="none" stroke="#1d4fd8" stroke-width="1.0"/>
<circle cx="161.1" cy="407.9" r="1.4" fill="none" stroke="#1d4fd8" stroke-width="1.0"/>
<circle cx="152.5" cy="406.4" r="1.4" fill="none" stroke="#1d4fd8" stroke-width="1.0"/>
<circle cx="162.2" cy="408.9" r="1.4" fill="none" stroke="#1d4fd8" stroke-width="1.0"/>
<circle cx="153.2" cy="415.4" r="1.4" fill="none" stroke="#1d4fd8" stroke-width="1.0"/>
<circle cx="164.8" cy="415.2" r="1.4" fill="none" stroke="#1d4fd8" stroke-width="1.0"/>
<circle cx="153.9" cy="405.5" r="1.4" fill="none" stroke="#1d4fd8" stroke-width="1.0"/>
<circle cx="152.8" cy="412.6" r="1.4" fill="none" stroke="#1d4fd8" stroke-width="1.0"/>
<circle cx="159.0" cy="414.4" r="1.4" fill="none" stroke="#1d4fd8" stroke-width="1.0"/>
<circle cx="154.6" cy="414.5" r="1.4" fill="none" stroke="#1d4fd8" stroke-width="1.0"/>
<circle cx="161.3" cy="411.5" r="1.4" fill="none" stroke="#1d4fd8" stroke-width="1.0"/>
<circle cx="153.6" cy="402.6" r="1.4" fill="none" stroke="#1d4fd8" stroke-width="1.0"/>
<circle cx="163.2" cy="407.7" r="1.4" fill="none" stroke="#1d4fd8" stroke-width="1.0"/>
<circle cx="153.4" cy="414.7" r="1.4" fill="none" stroke="#1d4fd8" stroke-width="1.0"/>
<circle cx="162.4" cy="412.9" r="1.4" fill="none" stroke="#1d4fd8" stroke-width="1.0"/>
<circle cx="153.5" cy="413.6" r="1.4" fill="none" stroke="#1d4fd8" stroke-width="1.0"/>
<circle cx="153.3" cy="413.7" r="1.4" fill="none" stroke="#1d4fd8" stroke-width="1.0"/>
<circle cx="159.5" cy="406.5" r="1.4" fill="none" stroke="#1d4fd8" stroke-width="1.0"/>
<circle cx="161.0" cy="414.6" r="1.4" fill="none" stroke="#1d4fd8" stroke-width="1.0"/>
<circle cx="154.0" cy="404.0" r="1.4" fill="none" stroke="#1d4fd8" stroke-width="1.0"/>
<circle cx="153.0" cy="404.6" r="1.4" fill="none" stroke="#1d4fd8" stroke-width="1.0"/>
<circle cx="157.2" cy="406.0" r="1.4" fill="none" stroke="#1d4fd8" stroke-width="1.0"/>
<circle cx="163.9" cy="409.4" r="1.4" fill="none" stroke="#1d4fd8" stroke-width="1.0"/>
<circle cx="155.2" cy="408.4" r="1.4" fill="none" stroke="#1d4fd8" stroke-width="1.0"/>
<circle cx="165.3" cy="407.8" r="1.4" fill="none" stroke="#1d4fd8" stroke-width="1.0"/>
<circle cx="160.1" cy="413.3" r="1.4" fill="none" stroke="#1d4fd8" stroke-width="1.0"/>
<circle cx="158.5" cy="408.8" r="1.4" fill="none" stroke="#1d4fd8" stroke-width="1.0"/>
<circle cx="163.2" cy="415.4" r="1.4" fill="none" stroke="#1d4fd8" stroke-width="1.0"/>
<circle cx="157.7" cy="413.3" r="1.4" fill="none" stroke="#1d4fd8" stroke-width="1.0"/>
<circle cx="163.5" cy="410.6" r="1.4" fill="none" stroke="#1d4fd8" stroke-width="1.0"/>
<circle cx="158.7" cy="406.6" r="1.4" fill="none" stroke="#1d4fd8" stroke-width="1.0"/>
<circle cx="153.1" cy="403.6" r="1.4" fill="none" stroke="#1d4fd8" stroke-width="1.0"/>
<circle cx="153.3" cy="412.0" r="1.4" fill="none" stroke="#1d4fd8" stroke-width="1.0"/>
<circle cx="153.6" cy="413.4" r="1.4" fill="none" stroke="#1d4fd8" stroke-width="1.0"/>
<circle cx="166.1" cy="411.1" r="1.4" fill="none" stroke="#1d4fd8" stroke-width="1.0"/>
<circle cx="156.9" cy="408.1" r="1.4" fill="none" stroke="#1d4fd8" stroke-width="1.0"/>
<circle cx="154.7" cy="408.0" r="1.4" fill="none" stroke="#1d4fd8" stroke-width="1.0"/>
<circle cx="156.4" cy="415.1" r="1.4" fill="none" stroke="#1d4fd8" stroke-width="1.0"/>
<circle cx="156.1" cy="415.1" r="1.4" fill="none" stroke="#1d4fd8" stroke-width="1.0"/>
<circle cx="157.2" cy="406.7" r="1.4" fill="none" stroke="#1d4fd8" stroke-width="1.0"/>
<circle cx="152.2" cy="407.1" r="1.4" fill="none" stroke="#1d4fd8" stroke-width="1.0"/>
<circle cx="159.8" cy="408.7" r="1.4" fill="none" stroke="#1d4fd8" stroke-width="1.0"/>
<circle cx="155.4" cy="408.8" r="1.4" fill="none" stroke="#1d4fd8" stroke-width="1.0"/>
<circle cx="152.3" cy="405.4" r="1.4" fill="none" stroke="#1d4fd8" stroke-width="1.0"/>
<circle cx="153.4" cy="401.5" r="1.4" fill="#a8bce8" fill-opacity="0.7" stroke="#5578c8" stroke-width="0.75"/>
<circle cx="156.1" cy="401.4" r="1.4" fill="#a8bce8" fill-opacity="0.7" stroke="#5578c8" stroke-width="0.75"/>
<circle cx="154.8" cy="404.0" r="1.4" fill="#a8bce8" fill-opacity="0.7" stroke="#5578c8" stroke-width="0.75"/>
<circle cx="158.5" cy="403.6" r="1.4" fill="#a8bce8" fill-opacity="0.7" stroke="#5578c8" stroke-width="0.75"/>
<circle cx="162.0" cy="403.8" r="1.4" fill="#a8bce8" fill-opacity="0.7" stroke="#5578c8" stroke-width="0.75"/>
<circle cx="165.2" cy="405.6" r="1.4" fill="#a8bce8" fill-opacity="0.7" stroke="#5578c8" stroke-width="0.75"/>
<circle cx="167.7" cy="408.3" r="1.4" fill="#a8bce8" fill-opacity="0.7" stroke="#5578c8" stroke-width="0.75"/>
<circle cx="169.7" cy="410.8" r="1.4" fill="#a8bce8" fill-opacity="0.7" stroke="#5578c8" stroke-width="0.75"/>
<circle cx="170.2" cy="413.7" r="1.4" fill="#a8bce8" fill-opacity="0.7" stroke="#5578c8" stroke-width="0.75"/>
<circle cx="169.2" cy="415.7" r="1.4" fill="#a8bce8" fill-opacity="0.7" stroke="#5578c8" stroke-width="0.75"/>
<circle cx="153.0" cy="397.3" r="1.55" fill="#e4eaf3" stroke="#6884b0" stroke-width="0.9"/>
<circle cx="156.0" cy="400.4" r="1.55" fill="#e4eaf3" stroke="#6884b0" stroke-width="0.9"/>
<circle cx="161.2" cy="400.0" r="1.55" fill="#e4eaf3" stroke="#6884b0" stroke-width="0.9"/>
<circle cx="167.8" cy="407.8" r="1.55" fill="#e4eaf3" stroke="#6884b0" stroke-width="0.9"/>
<circle cx="172.3" cy="410.9" r="1.55" fill="#e4eaf3" stroke="#6884b0" stroke-width="0.9"/>
<circle cx="177.0" cy="410.0" r="1.55" fill="#e4eaf3" stroke="#6884b0" stroke-width="0.9"/>
<circle cx="180.1" cy="410.0" r="1.55" fill="#e4eaf3" stroke="#6884b0" stroke-width="0.9"/>
<circle cx="204.8" cy="407.2" r="1.55" fill="#e4eaf3" stroke="#6884b0" stroke-width="0.9"/>
<circle cx="191.9" cy="415.0" r="1.55" fill="#e4eaf3" stroke="#6884b0" stroke-width="0.9"/>
<circle cx="203.2" cy="414.3" r="1.55" fill="#e4eaf3" stroke="#6884b0" stroke-width="0.9"/>
<circle cx="249.8" cy="412.8" r="1.55" fill="#e4eaf3" stroke="#6884b0" stroke-width="0.9"/>
<path d="M438.4,415.6 L438.4,407.4 L439.5,406.4 L442.9,406.4 L445.8,407.4 L448.3,408.8 L450.3,410.2 L451.6,411.6 L452,413.5 L452,415.6 Z" fill="#1a50e4" transform="translate(0,0)"/>
<circle cx="439.6" cy="410.1" r="1.4" fill="none" stroke="#1d4fd8" stroke-width="1.0"/>
<circle cx="442.5" cy="408.5" r="1.4" fill="none" stroke="#1d4fd8" stroke-width="1.0"/>
<circle cx="446.4" cy="411.3" r="1.4" fill="none" stroke="#1d4fd8" stroke-width="1.0"/>
<circle cx="448.6" cy="412.4" r="1.4" fill="none" stroke="#1d4fd8" stroke-width="1.0"/>
<circle cx="448.1" cy="414.5" r="1.4" fill="none" stroke="#1d4fd8" stroke-width="1.0"/>
<circle cx="443.7" cy="409.4" r="1.4" fill="none" stroke="#1d4fd8" stroke-width="1.0"/>
<circle cx="448.2" cy="412.3" r="1.4" fill="none" stroke="#1d4fd8" stroke-width="1.0"/>
<circle cx="439.0" cy="414.1" r="1.4" fill="none" stroke="#1d4fd8" stroke-width="1.0"/>
<circle cx="450.5" cy="412.2" r="1.4" fill="none" stroke="#1d4fd8" stroke-width="1.0"/>
<circle cx="448.4" cy="413.9" r="1.4" fill="none" stroke="#1d4fd8" stroke-width="1.0"/>
<circle cx="440.3" cy="411.2" r="1.4" fill="none" stroke="#1d4fd8" stroke-width="1.0"/>
<circle cx="445.3" cy="414.1" r="1.4" fill="none" stroke="#1d4fd8" stroke-width="1.0"/>
<circle cx="449.3" cy="414.0" r="1.4" fill="none" stroke="#1d4fd8" stroke-width="1.0"/>
<circle cx="446.3" cy="414.6" r="1.4" fill="none" stroke="#1d4fd8" stroke-width="1.0"/>
<circle cx="447.7" cy="412.8" r="1.4" fill="none" stroke="#1d4fd8" stroke-width="1.0"/>
<circle cx="441.5" cy="406.7" r="1.4" fill="none" stroke="#1d4fd8" stroke-width="1.0"/>
<circle cx="440.2" cy="409.7" r="1.4" fill="none" stroke="#1d4fd8" stroke-width="1.0"/>
<circle cx="439.8" cy="414.1" r="1.4" fill="none" stroke="#1d4fd8" stroke-width="1.0"/>
<circle cx="446.0" cy="412.2" r="1.4" fill="none" stroke="#1d4fd8" stroke-width="1.0"/>
<circle cx="446.9" cy="412.7" r="1.4" fill="none" stroke="#1d4fd8" stroke-width="1.0"/>
<circle cx="449.2" cy="413.3" r="1.4" fill="none" stroke="#1d4fd8" stroke-width="1.0"/>
<circle cx="445.2" cy="411.3" r="1.4" fill="none" stroke="#1d4fd8" stroke-width="1.0"/>
<circle cx="439.4" cy="408.8" r="1.4" fill="none" stroke="#1d4fd8" stroke-width="1.0"/>
<circle cx="448.5" cy="415.4" r="1.4" fill="none" stroke="#1d4fd8" stroke-width="1.0"/>
<circle cx="445.1" cy="409.9" r="1.4" fill="none" stroke="#1d4fd8" stroke-width="1.0"/>
<circle cx="444.9" cy="412.7" r="1.4" fill="none" stroke="#1d4fd8" stroke-width="1.0"/>
<circle cx="448.8" cy="412.1" r="1.4" fill="none" stroke="#1d4fd8" stroke-width="1.0"/>
<circle cx="440.4" cy="408.7" r="1.4" fill="none" stroke="#1d4fd8" stroke-width="1.0"/>
<circle cx="448.5" cy="409.2" r="1.4" fill="none" stroke="#1d4fd8" stroke-width="1.0"/>
<circle cx="439.2" cy="408.9" r="1.4" fill="none" stroke="#1d4fd8" stroke-width="1.0"/>
<circle cx="447.5" cy="412.8" r="1.4" fill="none" stroke="#1d4fd8" stroke-width="1.0"/>
<circle cx="447.6" cy="409.1" r="1.4" fill="none" stroke="#1d4fd8" stroke-width="1.0"/>
<circle cx="445.4" cy="410.7" r="1.4" fill="none" stroke="#1d4fd8" stroke-width="1.0"/>
<circle cx="444.7" cy="407.5" r="1.4" fill="none" stroke="#1d4fd8" stroke-width="1.0"/>
<circle cx="451.7" cy="415.0" r="1.4" fill="none" stroke="#1d4fd8" stroke-width="1.0"/>
<circle cx="438.6" cy="410.6" r="1.4" fill="none" stroke="#1d4fd8" stroke-width="1.0"/>
<circle cx="449.6" cy="415.3" r="1.4" fill="none" stroke="#1d4fd8" stroke-width="1.0"/>
<circle cx="444.5" cy="408.9" r="1.4" fill="none" stroke="#1d4fd8" stroke-width="1.0"/>
<circle cx="441.3" cy="415.1" r="1.4" fill="none" stroke="#1d4fd8" stroke-width="1.0"/>
<circle cx="441.3" cy="411.7" r="1.4" fill="none" stroke="#1d4fd8" stroke-width="1.0"/>
<circle cx="440.3" cy="411.2" r="1.4" fill="none" stroke="#1d4fd8" stroke-width="1.0"/>
<circle cx="449.6" cy="411.1" r="1.4" fill="none" stroke="#1d4fd8" stroke-width="1.0"/>
<circle cx="450.5" cy="412.9" r="1.4" fill="none" stroke="#1d4fd8" stroke-width="1.0"/>
<circle cx="441.5" cy="414.7" r="1.4" fill="none" stroke="#1d4fd8" stroke-width="1.0"/>
<circle cx="438.4" cy="410.9" r="1.4" fill="none" stroke="#1d4fd8" stroke-width="1.0"/>
<circle cx="444.5" cy="409.2" r="1.4" fill="none" stroke="#1d4fd8" stroke-width="1.0"/>
<circle cx="440.3" cy="409.6" r="1.4" fill="none" stroke="#1d4fd8" stroke-width="1.0"/>
<circle cx="442.7" cy="414.1" r="1.4" fill="none" stroke="#1d4fd8" stroke-width="1.0"/>
<circle cx="438.4" cy="413.3" r="1.4" fill="none" stroke="#1d4fd8" stroke-width="1.0"/>
<circle cx="451.0" cy="413.0" r="1.4" fill="none" stroke="#1d4fd8" stroke-width="1.0"/>
<circle cx="439.9" cy="397.0" r="1.4" fill="#a8bce8" fill-opacity="0.7" stroke="#5578c8" stroke-width="0.75"/>
<circle cx="440.9" cy="401.9" r="1.4" fill="#a8bce8" fill-opacity="0.7" stroke="#5578c8" stroke-width="0.75"/>
<circle cx="440.4" cy="403.9" r="1.4" fill="#a8bce8" fill-opacity="0.7" stroke="#5578c8" stroke-width="0.75"/>
<circle cx="439.0" cy="399.8" r="1.4" fill="#a8bce8" fill-opacity="0.7" stroke="#5578c8" stroke-width="0.75"/>
<circle cx="442.0" cy="404.2" r="1.4" fill="#a8bce8" fill-opacity="0.7" stroke="#5578c8" stroke-width="0.75"/>
<circle cx="438.6" cy="405.6" r="1.4" fill="#a8bce8" fill-opacity="0.7" stroke="#5578c8" stroke-width="0.75"/>
<circle cx="444.5" cy="405.2" r="1.4" fill="#a8bce8" fill-opacity="0.7" stroke="#5578c8" stroke-width="0.75"/>
<circle cx="447.5" cy="406.6" r="1.4" fill="#a8bce8" fill-opacity="0.7" stroke="#5578c8" stroke-width="0.75"/>
<circle cx="450.3" cy="408.2" r="1.4" fill="#a8bce8" fill-opacity="0.7" stroke="#5578c8" stroke-width="0.75"/>
<circle cx="453.7" cy="415.2" r="1.4" fill="#a8bce8" fill-opacity="0.7" stroke="#5578c8" stroke-width="0.75"/>
<circle cx="455.5" cy="412.2" r="1.4" fill="#a8bce8" fill-opacity="0.7" stroke="#5578c8" stroke-width="0.75"/>
<circle cx="457.5" cy="413.0" r="1.4" fill="#a8bce8" fill-opacity="0.7" stroke="#5578c8" stroke-width="0.75"/>
<circle cx="452.8" cy="410.5" r="1.4" fill="#a8bce8" fill-opacity="0.7" stroke="#5578c8" stroke-width="0.75"/>
<circle cx="439.7" cy="397.3" r="1.55" fill="#e4eaf3" stroke="#6884b0" stroke-width="0.9"/>
<circle cx="441.6" cy="400.4" r="1.55" fill="#e4eaf3" stroke="#6884b0" stroke-width="0.9"/>
<circle cx="446.8" cy="400.9" r="1.55" fill="#e4eaf3" stroke="#6884b0" stroke-width="0.9"/>
<circle cx="454.5" cy="415.2" r="1.55" fill="#e4eaf3" stroke="#6884b0" stroke-width="0.9"/>
<circle cx="459.5" cy="410.9" r="1.55" fill="#e4eaf3" stroke="#6884b0" stroke-width="0.9"/>
<circle cx="459.9" cy="413.1" r="1.55" fill="#e4eaf3" stroke="#6884b0" stroke-width="0.9"/>
<circle cx="465.7" cy="410.7" r="1.55" fill="#e4eaf3" stroke="#6884b0" stroke-width="0.9"/>
<circle cx="479.9" cy="412.4" r="1.55" fill="#e4eaf3" stroke="#6884b0" stroke-width="0.9"/>
<circle cx="491.6" cy="409.1" r="1.55" fill="#e4eaf3" stroke="#6884b0" stroke-width="0.9"/>
<circle cx="491.2" cy="414.9" r="1.55" fill="#e4eaf3" stroke="#6884b0" stroke-width="0.9"/>
<circle cx="537.3" cy="413.2" r="1.55" fill="#e4eaf3" stroke="#6884b0" stroke-width="0.9"/>
</svg>
</body></html>
